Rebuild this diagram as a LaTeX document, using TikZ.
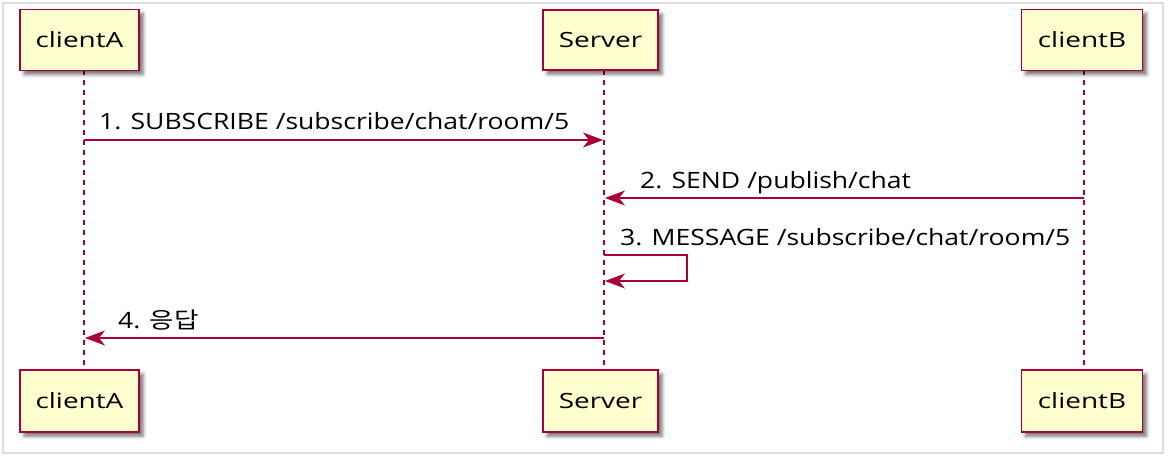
\documentclass[tikz,border=0pt]{standalone}
\usepackage{fontspec}
\setmainfont{Open Sans}
\newfontfamily\boxfont[FakeStretch=1.33]{Open Sans}
\newfontfamily\labelfont[FakeStretch=1.18]{Open Sans}
\newfontfamily\kofont[FakeStretch=1.18]{Noto Sans CJK KR}
\usetikzlibrary{arrows.meta,shadows.blur}
\definecolor{umlred}{HTML}{A80036}
\definecolor{umlfill}{HTML}{FEFECE}
\definecolor{framegray}{HTML}{DDDDDD}
\tikzset{
  actorbox/.style={draw=umlred, line width=1.9pt, fill=umlfill, inner sep=0pt,
    font=\boxfont\fontsize{21}{25}\selectfont,
    blur shadow={shadow xshift=4pt, shadow yshift=-4pt, shadow blur radius=3.5pt, shadow opacity=55}},
  lifeline/.style={draw=umlred, line width=1.4pt, dash pattern=on 5pt off 5pt},
  msg/.style={draw=umlred, line width=1.6pt, -{Stealth[length=20pt,width=15pt,inset=6pt]}},
  msglabel/.style={anchor=base west, inner sep=0pt, font=\labelfont\fontsize{22.5}{27}\selectfont}
}
\begin{document}
\begin{tikzpicture}[x=1pt,y=-1pt]
\useasboundingbox (0,0) rectangle (1168,460);
\draw[framegray, line width=1.5pt] (3,3) rectangle (1163,453);
% lifeline coordinates
\coordinate (aT) at (84,70);  \coordinate (aB) at (84,370);
\coordinate (sT) at (604,70); \coordinate (sB) at (604,370);
\coordinate (bT) at (1084,70); \coordinate (bB) at (1084,370);
\draw[lifeline] (aT) -- (aB);
\draw[lifeline] (sT) -- (sB);
\draw[lifeline] (bT) -- (bB);
% boxes
\node[actorbox, minimum width=119pt, minimum height=61pt] (A1) at (79.5,40) {clientA};
\node[actorbox, minimum width=115pt, minimum height=60pt] (S1) at (600.5,40) {Server};
\node[actorbox, minimum width=121pt, minimum height=61pt] (B1) at (1082,40) {clientB};
\node[actorbox, minimum width=119pt, minimum height=62pt] (A2) at (79.5,401) {clientA};
\node[actorbox, minimum width=115pt, minimum height=62pt] (S2) at (600.5,401) {Server};
\node[actorbox, minimum width=121pt, minimum height=62pt] (B2) at (1082,401) {clientB};
% messages
\coordinate (m1a) at (84,140); \coordinate (m1s) at (603,140);
\draw[msg] (m1a) -- (m1s);
\node[msglabel] (l1) at (99,129.5) {1. SUBSCRIBE /subscribe/chat/room/5};
\coordinate (m2b) at (1084,198); \coordinate (m2s) at (605,198);
\draw[msg] (m2b) -- (m2s);
\node[msglabel] (l2) at (640,188) {2. SEND /publish/chat};
\coordinate (m3s) at (604,255); \coordinate (m3r) at (687,255);
\coordinate (m3q) at (687,281); \coordinate (m3e) at (605,281);
\draw[msg] (m3s) -- (m3r) -- (m3q) -- (m3e);
\node[msglabel] (l3) at (620,245) {3. MESSAGE /subscribe/chat/room/5};
\coordinate (m4s) at (604,338); \coordinate (m4a) at (85,338);
\draw[msg] (m4s) -- (m4a);
\node[msglabel] (l4) at (118,328.5) {4. {\kofont 응답}};
\end{tikzpicture}
\end{document}
